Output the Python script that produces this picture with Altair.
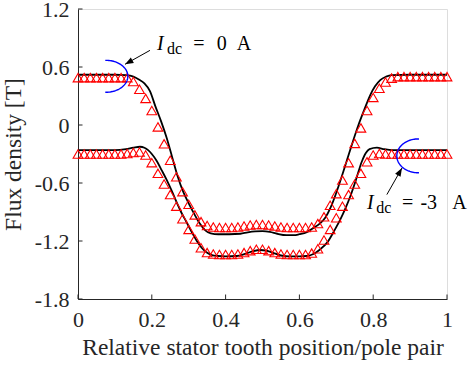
import altair as alt
import pandas as pd
import numpy as np

# ---------------- data ----------------
# measurement grid (61 positions, 0 ... 1)
meas_x = [k / 60 for k in range(61)]

meas_0A = [0.49, 0.49, 0.49, 0.49, 0.49, 0.49, 0.49, 0.49, 0.49,
           0.45, 0.37, 0.275, 0.15, -0.02, -0.195, -0.365, -0.535, -0.69,
           -0.82, -0.93, -1.0, -1.04, -1.055, -1.06, -1.06, -1.06, -1.055,
           -1.045, -1.035, -1.03, -1.03, -1.035, -1.045, -1.055, -1.06, -1.06,
           -1.06, -1.06, -1.055, -1.02, -0.95, -0.83, -0.71, -0.57, -0.39,
           -0.19, -0.03, 0.15, 0.285, 0.38, 0.445, 0.485,
           0.50, 0.50, 0.50, 0.50, 0.50, 0.50, 0.50, 0.50, 0.50]

meas_m3A = [-0.30, -0.30, -0.30, -0.30, -0.30, -0.30, -0.30, -0.30,
            -0.295, -0.285, -0.28, -0.31, -0.39, -0.50, -0.61, -0.72, -0.84,
            -0.97, -1.08, -1.18, -1.27, -1.32, -1.335, -1.34, -1.34, -1.34,
            -1.335, -1.32, -1.30, -1.285, -1.285, -1.30, -1.32, -1.335, -1.34,
            -1.34, -1.34, -1.34, -1.325, -1.28, -1.19, -1.08, -0.96, -0.84,
            -0.72, -0.61, -0.50, -0.38, -0.31, -0.295,
            -0.30, -0.30, -0.30, -0.30, -0.30, -0.30, -0.30, -0.30, -0.30, -0.30, -0.30]

sim_0A_x = [0, 0.05, 0.10, 0.13, 0.15, 0.165, 0.18, 0.195, 0.21, 0.225, 0.24, 0.255,
            0.27, 0.285, 0.30, 0.315, 0.33, 0.345, 0.36, 0.38, 0.41, 0.44, 0.46,
            0.48, 0.50, 0.52, 0.54, 0.565, 0.585, 0.60, 0.62, 0.638, 0.655, 0.67,
            0.685, 0.70, 0.715, 0.73, 0.745, 0.76, 0.775, 0.792, 0.805, 0.819,
            0.835, 0.85, 0.90, 1.0]
sim_0A_y = [0.52, 0.52, 0.52, 0.515, 0.50, 0.47, 0.43, 0.35, 0.19, 0.04, -0.13, -0.33,
            -0.53, -0.69, -0.81, -0.92, -1.02, -1.09, -1.12, -1.13, -1.13, -1.125, -1.11,
            -1.10, -1.097, -1.105, -1.125, -1.14, -1.14, -1.13, -1.11, -1.065, -1.02, -0.96,
            -0.85, -0.70, -0.53, -0.35, -0.17, 0.0, 0.15, 0.31, 0.40, 0.465,
            0.50, 0.515, 0.52, 0.52]

sim_m3A_x = [0, 0.10, 0.13, 0.15, 0.168, 0.18, 0.19, 0.20, 0.213, 0.227, 0.24, 0.255,
             0.268, 0.28, 0.295, 0.31, 0.322, 0.335, 0.349, 0.363, 0.38, 0.40, 0.43,
             0.455, 0.475, 0.494, 0.51, 0.53, 0.55, 0.575, 0.60, 0.62, 0.638, 0.655,
             0.675, 0.695, 0.711, 0.725, 0.738, 0.753, 0.769, 0.78, 0.79, 0.81,
             0.83, 0.85, 0.90, 1.0]
sim_m3A_y = [-0.26, -0.26, -0.25, -0.235, -0.225, -0.235, -0.26, -0.30, -0.37, -0.47, -0.566, -0.69,
             -0.806, -0.905, -1.011, -1.12, -1.20, -1.27, -1.32, -1.345, -1.355, -1.36, -1.355,
             -1.33, -1.305, -1.293, -1.30, -1.325, -1.35, -1.36, -1.36, -1.355, -1.335, -1.29,
             -1.217, -1.09, -0.977, -0.86, -0.737, -0.57, -0.38, -0.29, -0.25, -0.235,
             -0.25, -0.26, -0.26, -0.26]

x_ticks = [0, 0.2, 0.4, 0.6, 0.8, 1.0]
y_ticks = [-1.8, -1.2, -0.6, 0, 0.6, 1.2]

# annotation anchors (data units)
label_0A = {"I": (0.214, 0.772), "dc": (0.241, 0.730), "=": (0.312, 0.772),
            "0": (0.376, 0.772), "A": (0.430, 0.772)}
label_m3A = {"I": (0.783, -0.874), "dc": (0.808, -0.91), "=": (0.878, -0.874),
             "-3": (0.928, -0.874), "A": (1.0144, -0.874)}
arrow_0A = ((0.195, 0.772), (0.1275, 0.628))
arrow_m3A = ((0.837, -0.72), (0.878, -0.445))
ellipse_0A = (0.076, 0.504, 0.059, 0.165, -92, 92)
ellipse_m3A = (0.922, -0.319, 0.058, 0.175, 88, 272)

# ---------------- layout ----------------
W, H = 369, 290
XD, YD = [0, 1], [-1.8, 1.2]
FONT = "Liberation Serif"
INK = "#262626"

xs = alt.Scale(domain=XD, nice=False, zero=False)
ys = alt.Scale(domain=YD, nice=False, zero=False)

meas_df = pd.DataFrame({
    "x": meas_x * 2,
    "y": meas_0A + meas_m3A,
    "s": ["0A"] * len(meas_x) + ["m3A"] * len(meas_x),
})
sim_df = pd.DataFrame({
    "x": sim_0A_x + sim_m3A_x,
    "y": sim_0A_y + sim_m3A_y,
    "s": ["0A"] * len(sim_0A_x) + ["m3A"] * len(sim_m3A_x),
})

x_axis = alt.Axis(values=x_ticks, format="~g", ticks=False, tickSize=0, grid=False,
                  labelFont=FONT, labelFontSize=22, labelColor=INK, labelPadding=10,
                  labelFlush=False, domainColor=INK, domainWidth=1,
                  title="Relative stator tooth position/pole pair", titleFont=FONT,
                  titleFontSize=23.5, titleFontWeight="normal", titleColor=INK, titlePadding=5)
y_axis = alt.Axis(values=y_ticks, ticks=False, tickSize=0, grid=False,
                  labelExpr="replace(format(datum.value, '~g'), '\u2212', '-')",
                  labelFont=FONT, labelFontSize=22, labelColor=INK, labelPadding=9,
                  labelFlush=False, domainColor=INK, domainWidth=1,
                  title="Flux density [T]", titleFont=FONT, titleFontSize=23.5,
                  titleFontWeight="normal", titleColor=INK, titlePadding=9)

lines = alt.Chart(sim_df).mark_line(color="black", strokeWidth=1.8, interpolate="monotone").encode(
    x=alt.X("x:Q", scale=xs, axis=x_axis),
    y=alt.Y("y:Q", scale=ys, axis=y_axis),
    detail="s:N",
)

points = alt.Chart(meas_df).mark_point(shape="triangle-up", size=95, color="#ff0000",
                                       strokeWidth=1.1, filled=False, opacity=1).encode(
    x=alt.X("x:Q", scale=xs),
    y=alt.Y("y:Q", scale=ys),
)

# inward tick marks
tx = 4.5 / W * (XD[1] - XD[0])
ty = 4.5 / H * (YD[1] - YD[0])
ytick_df = pd.DataFrame({"y": y_ticks, "x0": [XD[0]] * len(y_ticks), "x1": [XD[0] + tx] * len(y_ticks)})
xtick_df = pd.DataFrame({"x": x_ticks, "y0": [YD[0]] * len(x_ticks), "y1": [YD[0] + ty] * len(x_ticks)})
yticks = alt.Chart(ytick_df).mark_rule(color=INK, strokeWidth=1).encode(
    x=alt.X("x0:Q", scale=xs), x2="x1:Q", y=alt.Y("y:Q", scale=ys))
xticks = alt.Chart(xtick_df).mark_rule(color=INK, strokeWidth=1).encode(
    x=alt.X("x:Q", scale=xs), y=alt.Y("y0:Q", scale=ys), y2="y1:Q")

# blue ellipse arcs
arc_rows = []
for name, (cx, cy, rx, ry, a0, a1) in {"0A": ellipse_0A, "m3A": ellipse_m3A}.items():
    for i, t in enumerate(np.radians(np.linspace(a0, a1, 60))):
        arc_rows.append({"s": name, "i": i, "x": cx + rx * np.cos(t), "y": cy + ry * np.sin(t)})
arcs = alt.Chart(pd.DataFrame(arc_rows)).mark_line(color="#0000ff", strokeWidth=1.4).encode(
    x=alt.X("x:Q", scale=xs), y=alt.Y("y:Q", scale=ys), detail="s:N", order="i:Q")

# arrows
arrow_rows = []
for (x0, y0), (x1, y1) in [arrow_0A, arrow_m3A]:
    dxp = (x1 - x0) * W / (XD[1] - XD[0])
    dyp = -(y1 - y0) * H / (YD[1] - YD[0])
    ang = float(np.degrees(np.arctan2(dxp, -dyp))) % 360
    arrow_rows.append({"x0": x0, "y0": y0, "x1": x1, "y1": y1, "ang": ang})
arrow_df = pd.DataFrame(arrow_rows)
shafts = alt.Chart(arrow_df).mark_rule(color="black", strokeWidth=1).encode(
    x=alt.X("x0:Q", scale=xs), y=alt.Y("y0:Q", scale=ys), x2="x1:Q", y2="y1:Q")
heads = alt.Chart(arrow_df).mark_point(shape="M0,0L-0.75,2L0.75,2Z", size=70, filled=True,
                                      color="black", opacity=1).encode(
    x=alt.X("x1:Q", scale=xs), y=alt.Y("y1:Q", scale=ys), angle=alt.Angle("ang:Q", scale=None))

# annotation texts
ital, sub, norm = [], [], []
for lab in [label_0A, label_m3A]:
    for k, (x, y) in lab.items():
        row = {"t": k, "x": x, "y": y}
        if k == "I":
            ital.append(row)
        elif k == "dc":
            sub.append(row)
        else:
            norm.append(row)

def text_layer(rows, size, style):
    return alt.Chart(pd.DataFrame(rows)).mark_text(
        font=FONT, fontSize=size, fontStyle=style, align="left", baseline="alphabetic", color="black"
    ).encode(x=alt.X("x:Q", scale=xs), y=alt.Y("y:Q", scale=ys), text="t:N")

texts = text_layer(ital, 20, "italic") + text_layer(sub, 16, "normal") + text_layer(norm, 20, "normal")

chart = alt.layer(lines, points, yticks, xticks, arcs, shafts, heads, texts).properties(
    width=W, height=H,
    autosize=alt.AutoSizeParams(type="none"),
    padding={"left": 78, "top": 9, "right": 468 - 78 - W, "bottom": 366 - 9 - H},
).configure_view(stroke=None).configure(background="white")

chart.save("out.html", embed_options={"renderer": "svg", "actions": False})
